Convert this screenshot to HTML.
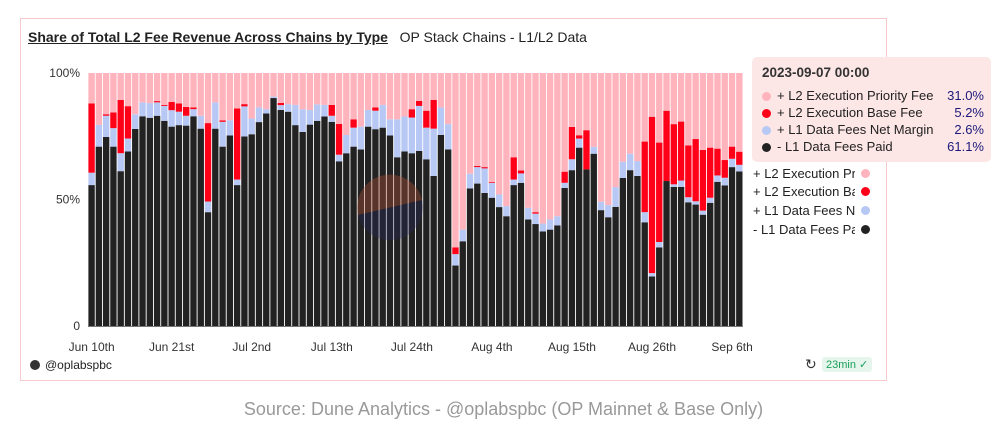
<!DOCTYPE html>
<html><head><meta charset="utf-8"><style>
body{margin:0;width:1007px;height:432px;background:#fff;font-family:"Liberation Sans",sans-serif;overflow:hidden;position:relative}
.abs{position:absolute}
.card{left:20px;top:18px;width:867px;height:363px;border:1px solid #f6c9cd;box-sizing:border-box}
.title{left:28px;top:29px;font-size:14px;color:#222;white-space:nowrap}
.title b{text-decoration:underline;font-weight:bold}
.tt{left:752px;top:57px;width:239px;height:105px;background:#fde6e6;border-radius:5px;font-size:13px;color:#222}
.row{position:absolute;left:10px;height:16px;width:222px;white-space:nowrap}
.dot{display:inline-block;width:9px;height:9px;border-radius:50%;margin-right:6px;vertical-align:-1px}
.val{position:absolute;right:0;top:0;color:#1a1a7a}
.leg{left:753px;font-size:13px;color:#222;white-space:nowrap;width:120px;height:17px}
.leg .lt{display:inline-block;width:102px;overflow:hidden;white-space:nowrap}
.leg .dot{position:absolute;left:108px;top:3px}
</style></head><body>
<div class="abs card"></div>
<div class="abs title"><b>Share of Total L2 Fee Revenue Across Chains by Type</b>&nbsp;&nbsp; OP Stack Chains - L1/L2 Data</div>
<svg class="abs" id="chart" style="left:0;top:0" width="1007" height="432"></svg>
<div class="abs tt">
<div class="row" style="top:8px;font-size:13.5px;font-weight:bold;color:#333">2023-09-07 00:00</div>
<div class="row" style="top:31px"><span class="dot" style="background:#ffb3bc"></span>+ L2 Execution Priority Fee<span class="val">31.0%</span></div>
<div class="row" style="top:48px"><span class="dot" style="background:#ff0019"></span>+ L2 Execution Base Fee<span class="val">5.2%</span></div>
<div class="row" style="top:65px"><span class="dot" style="background:#b8c8f5"></span>+ L1 Data Fees Net Margin<span class="val">2.6%</span></div>
<div class="row" style="top:82px"><span class="dot" style="background:#222"></span>- L1 Data Fees Paid<span class="val">61.1%</span></div>
</div>
<div class="abs leg" style="top:166px"><span class="lt">+ L2 Execution Priority Fee</span><span class="dot" style="background:#ffb3bc"></span></div>
<div class="abs leg" style="top:184px"><span class="lt">+ L2 Execution Base Fee</span><span class="dot" style="background:#ff0019"></span></div>
<div class="abs leg" style="top:203px"><span class="lt">+ L1 Data Fees Net Margin</span><span class="dot" style="background:#b8c8f5"></span></div>
<div class="abs leg" style="top:222px"><span class="lt">- L1 Data Fees Paid</span><span class="dot" style="background:#222"></span></div>
<div class="abs" style="left:30px;top:358px;font-size:12px;color:#222"><span style="display:inline-block;width:10px;height:10px;border-radius:50%;background:#333;vertical-align:-1px;margin-right:5px"></span>@oplabspbc</div>
<div class="abs" style="left:805px;top:356px;font-size:14px;color:#333">↻</div>
<div class="abs" style="left:822px;top:357px;font-size:11px;color:#1a9e5a;background:#e6f6ec;padding:1px 4px;border-radius:3px">23min ✓</div>
<div class="abs" style="left:0;width:1007px;top:399px;text-align:center;font-size:18px;color:#999">Source: Dune Analytics - @oplabspbc (OP Mainnet &amp; Base Only)</div>
<script>
const dates=["Jun 10th","Jun 21st","Jul 2nd","Jul 13th","Jul 24th","Aug 4th","Aug 15th","Aug 26th","Sep 6th"];
const yTicks=[0,50,100];
const l1Paid=[55.7,70.9,74.7,70.9,61.2,69.0,77.9,82.9,82.3,83.1,81.1,78.8,79.4,79.2,82.9,78.0,45.0,78.0,70.9,75.3,55.7,74.9,75.8,80.6,84.0,90.1,85.4,84.7,79.4,76.7,79.6,81.1,82.8,80.7,65.1,68.3,70.9,69.8,78.8,77.8,78.4,75.3,66.7,69.0,68.3,69.2,65.9,59.3,75.5,69.8,23.9,33.5,54.4,56.3,52.6,50.7,47.0,43.4,55.7,56.6,42.1,40.3,37.4,38.1,39.8,54.6,61.6,70.5,61.9,68.1,45.8,43.0,47.1,58.5,61.6,59.3,41.0,19.6,31.1,57.3,55.0,55.0,48.9,48.0,44.0,48.7,57.0,55.6,62.8,61.1];
const netMargin=[4.9,8.6,8.4,7.3,7.1,5.1,5.8,5.5,5.8,5.3,5.9,6.5,5.3,3.9,2.8,5.1,4.2,10.4,9.8,6.0,2.2,11.9,6.2,5.8,1.7,0.6,1.9,3.0,8.0,9.0,5.8,6.5,4.6,2.4,2.6,7.2,7.5,9.0,6.6,7.3,9.0,6.4,15.0,13.8,14.1,17.8,12.5,18.7,10.9,10.0,4.5,4.6,5.8,6.5,9.7,5.9,5.0,4.0,2.2,3.7,4.6,4.1,3.1,4.0,3.6,2.0,4.3,3.6,0,2.7,3.3,4.8,7.8,6.4,6.5,5.9,4.0,1.3,2.1,0,1.0,2.5,2.0,1.3,1.6,2.0,2.5,3.0,3.3,2.6];
const baseFee=[27.4,0,0.6,6.2,21.1,12.8,0,0,0,0.5,0.4,3.3,3.3,3.5,0.7,0,31.0,0,0.6,0,28.1,0.9,0,0,0,0,0.9,0,0,0,0,0,0,4.3,12.2,0,3.3,0,0,1.3,0,0,0,0,3.3,2.0,6.7,11.4,0,0,2.7,0,0,0.5,0.5,0.3,0,0,8.8,1.2,0,0.6,0,0,0,4.4,12.8,1.3,15.5,0,0,0,0,0,0,0,27.9,61.8,39.3,27.8,23.8,23.3,20.5,24.6,24.0,19.8,10.6,7.0,4.8,5.2];
const svg=document.getElementById('chart');const NS='http://www.w3.org/2000/svg';
const X0=88,X1=743,Y0=326,Y1=73,N=l1Paid.length,pitch=(X1-X0)/N;
const xs=i=>X0+i*pitch;const ys=v=>Y0-(v/100)*(Y0-Y1);
function mk(t,a){const e=document.createElementNS(NS,t);for(const k in a)e.setAttribute(k,a[k]);svg.appendChild(e);return e;}
for(let i=0;i<N;i++){
 const segs=[[0,l1Paid[i],'#222222','l1-paid'],[l1Paid[i],netMargin[i],'#b8c8f5','net-margin'],[l1Paid[i]+netMargin[i],baseFee[i],'#ff0019','base-fee']];
 const top=l1Paid[i]+netMargin[i]+baseFee[i];
 segs.push([top,Math.max(0,100-top),'#ffb3bc','priority-fee']);
 for(const s of segs){if(s[1]<=0)continue;
  const r=mk('rect',{x:xs(i)+0.4,y:ys(s[0]+s[1]),width:pitch-0.9,height:ys(s[0])-ys(s[0]+s[1]),fill:s[2]});
  
  }
}
const c=mk('path',{d:'M358,215 A32,32 0 1,1 422,200 Z',fill:'#c0573a',opacity:0.35});


const c2=mk('path',{d:'M358,215 L422,200 A32,32 0 0,1 358,215 Z',fill:'#2a2a6a',opacity:0.3});


const ax=mk('line',{x1:X0,x2:X1,y1:Y0+0.5,y2:Y0+0.5,stroke:'#777','stroke-width':1});


yTicks.forEach(v=>{const t=mk('text',{x:80,y:ys(v)+4,'text-anchor':'end','font-size':12,fill:'#333','font-family':'Liberation Sans'});t.textContent=v===0?'0':v+'%';
 
 });
dates.forEach((d,k)=>{const t=mk('text',{x:xs(k*11)+pitch/2,y:351,'text-anchor':'middle','font-size':12,fill:'#333','font-family':'Liberation Sans'});t.textContent=d;
 
 });
</script>
</body></html>
